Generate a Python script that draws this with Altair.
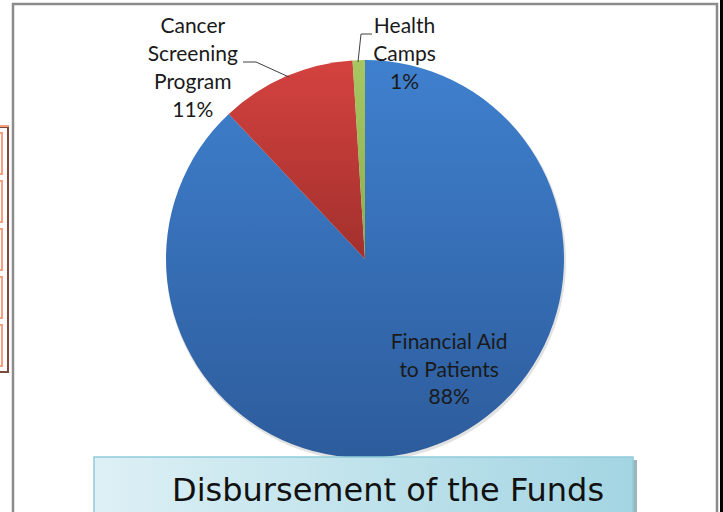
import math
import altair as alt
import pandas as pd

# ---- data ----
categories = ["Financial Aid to Patients", "Cancer Screening Program", "Health Camps"]
values = [88, 11, 1]
labels = ["Financial Aid\nto Patients\n88%", "Cancer\nScreening\nProgram\n11%", "Health\nCamps\n1%"]
title_text = "Disbursement of the Funds"

df = pd.DataFrame({"category": categories, "value": values,
                   "order": list(range(len(categories))), "label": labels})
total = sum(values)

W, H = 723, 512
CX, CY, R = 365, 259, 199
LABEL_FONT = "Lato"

one = alt.Data(values=[{}])

def grad(top, bottom, horizontal=False):
    if horizontal:
        return alt.LinearGradient(gradient="linear", x1=0, x2=1, y1=0, y2=0,
                                  stops=[alt.GradientStop(color=top, offset=0),
                                         alt.GradientStop(color=bottom, offset=1)])
    return alt.LinearGradient(gradient="linear", x1=0, x2=0, y1=0, y2=1,
                              stops=[alt.GradientStop(color=top, offset=0),
                                     alt.GradientStop(color=bottom, offset=1)])

# ---- decorations ----
frame = alt.Chart(one).mark_rect(fillOpacity=0, stroke="#8C8C8C", strokeWidth=2.5).encode(
    x=alt.value(13), x2=alt.value(717), y=alt.value(4), y2=alt.value(530))
right_strip = alt.Chart(one).mark_rect(color="#000000").encode(
    x=alt.value(720), x2=alt.value(723), y=alt.value(0), y2=alt.value(H))

left_outer = alt.Chart(one).mark_rect(fillOpacity=0, stroke="#7A4A3A", strokeWidth=2).encode(
    x=alt.value(-5), x2=alt.value(8), y=alt.value(127), y2=alt.value(372))
left_top = alt.Chart(one).mark_rule(color="#F4A080", strokeWidth=2).encode(
    x=alt.value(0), x2=alt.value(9), y=alt.value(126))
box_df = pd.DataFrame({"y0": [133, 181, 229, 277, 325], "y1": [174, 222, 270, 318, 366]})
left_boxes = alt.Chart(box_df).mark_rect(fillOpacity=0, stroke="#F4A080", strokeWidth=2).encode(
    x=alt.value(-5), x2=alt.value(2),
    y=alt.Y("y0:Q", scale=None), y2="y1:Q")

# ---- pie ----
base = alt.Chart(df).transform_stack(
    stack="value", as_=["v0", "v1"], groupby=[],
    sort=[alt.SortField("order", order="ascending")]
).transform_calculate(mid="(datum.v0 + datum.v1) / 2")

theta_scale = alt.Scale(domain=[0, total], range=[0, 2 * math.pi])

shadow = alt.Chart(one).mark_arc(theta=0, theta2=2 * math.pi, outerRadius=R + 1,
                                 color="#E2E2E2").encode(x=alt.value(CX + 1), y=alt.value(CY + 2))

fills = {
    categories[0]: grad("#3F80CE", "#2D5C9C"),
    categories[1]: grad("#D4423F", "#A2302D"),
    categories[2]: grad("#A6C760", "#8DAC4E"),
}

arcs = []
for cat in categories:
    arcs.append(
        base.transform_filter(alt.datum.category == cat)
        .mark_arc(outerRadius=R, fill=fills[cat])
        .encode(theta=alt.Theta("v0:Q", scale=theta_scale), theta2="v1:Q",
                x=alt.value(CX), y=alt.value(CY))
    )

label_style = {
    categories[0]: dict(radius=120, dx=40, lineHeight=27.5),
    categories[1]: dict(radius=207, dx=-90, lineHeight=28),
    categories[2]: dict(radius=204, dx=46, lineHeight=28),
}
texts = []
for cat, lab in zip(categories, labels):
    st = label_style[cat]
    n_lines = lab.count("\n") + 1
    texts.append(
        base.transform_filter(alt.datum.category == cat)
        .mark_text(radius=st["radius"], dx=st["dx"], dy=-(n_lines - 1) / 2 * st["lineHeight"],
                   lineHeight=st["lineHeight"],
                   lineBreak="\n", align="center", baseline="middle",
                   font=LABEL_FONT, fontSize=21, color="#1A1A1A")
        .encode(theta=alt.Theta("mid:Q", scale=theta_scale), x=alt.value(CX), y=alt.value(CY),
                text="label:N")
    )

# leader lines
lead_color = "#404040"
leaders = [
    alt.Chart(one).mark_rule(color=lead_color, strokeWidth=1).encode(
        x=alt.value(243), x2=alt.value(256), y=alt.value(62), y2=alt.value(62)),
    alt.Chart(one).mark_rule(color=lead_color, strokeWidth=1).encode(
        x=alt.value(256), x2=alt.value(289), y=alt.value(62), y2=alt.value(77)),
    alt.Chart(one).mark_rule(color=lead_color, strokeWidth=1).encode(
        x=alt.value(372), x2=alt.value(361), y=alt.value(34), y2=alt.value(34)),
    alt.Chart(one).mark_rule(color=lead_color, strokeWidth=1).encode(
        x=alt.value(361), x2=alt.value(358), y=alt.value(34), y2=alt.value(62)),
]

# ---- title box ----
title_shadow = alt.Chart(one).mark_rect(color="#9FB4BC").encode(
    x=alt.value(97), x2=alt.value(637), y=alt.value(460), y2=alt.value(520))
title_box = alt.Chart(one).mark_rect(fill=grad("#DDF0F5", "#A3D5E2", horizontal=True),
                                     stroke="#8FCBDA", strokeWidth=1.5).encode(
    x=alt.value(94), x2=alt.value(633), y=alt.value(457), y2=alt.value(520))
title = alt.Chart(one).mark_text(text=title_text, font="DejaVu Sans", fontSize=32,
                                 align="left", baseline="alphabetic", color="#111111").encode(
    x=alt.value(172), y=alt.value(501))

chart = alt.layer(
    frame, right_strip, left_outer, left_top, left_boxes,
    shadow, *arcs, *leaders, *texts,
    title_shadow, title_box, title,
).properties(width=W, height=H, padding=0, autosize=alt.AutoSizeParams(type="none")
).configure_view(stroke=None)

chart.save("out.html", embed_options={"renderer": "svg", "actions": False})
